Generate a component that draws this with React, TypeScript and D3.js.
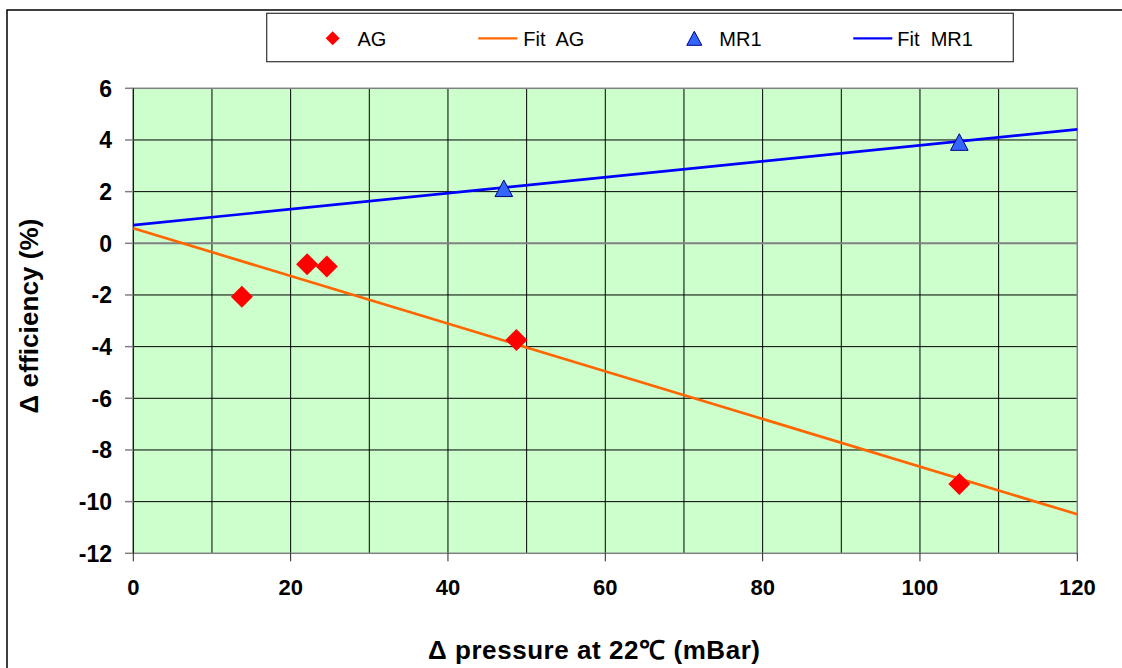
import React from "react";
import * as d3 from "d3";

const agX = [13.8, 22.1, 24.6, 48.7, 105.0];
const agY = [-2.07, -0.81, -0.9, -3.74, -9.32];
const mrX = [47.1, 105.0];
const mrY = [2.13, 3.92];
const fitAGX = [0, 120];
const fitAGY = [0.58, -10.49];
const fitMRX = [0, 120];
const fitMRY = [0.7, 4.41];
const xTicks = [0, 20, 40, 60, 80, 100, 120];
const xGrid = [10, 20, 30, 40, 50, 60, 70, 80, 90, 100, 110];
const yTicks = [6, 4, 2, 0, -2, -4, -6, -8, -10, -12];
const legendItems = ["AG", "Fit  AG", "MR1", "Fit  MR1"];

const W = 1122;
const H = 668;
const FONT = "'Liberation Sans', Arial, sans-serif";

export default function App() {
  const x = d3.scaleLinear().domain([0, 120]).range([133.3, 1077.3]);
  const y = d3.scaleLinear().domain([-12, 6]).range([553.3, 88.3]);
  const line = d3
    .line<[number, number]>()
    .x((d) => x(d[0]))
    .y((d) => y(d[1]));
  const agFit = fitAGX.map((v, i) => [v, fitAGY[i]] as [number, number]);
  const mrFit = fitMRX.map((v, i) => [v, fitMRY[i]] as [number, number]);
  const diamond = (cx: number, cy: number, r: number) =>
    `M${cx},${cy - r}L${cx + r},${cy}L${cx},${cy + r}L${cx - r},${cy}Z`;
  const tri = (cx: number, cy: number, hw: number, hh: number) =>
    `M${cx},${cy - hh}L${cx + hw},${cy + hh}L${cx - hw},${cy + hh}Z`;
  const [x0, x1] = x.range();
  const [yb, yt] = y.range();

  return (
    <svg
      width={W}
      height={H}
      style={{ position: "absolute", left: 0, top: 0, background: "#fff" }}
      fontFamily={FONT}
    >
      <rect x={0} y={0} width={W} height={H} fill="#fff" />
      {/* outer frame */}
      <rect x={7} y={10} width={1140} height={700} fill="none" stroke="#000" strokeWidth={1.5} />
      {/* plot area */}
      <rect x={x0} y={yt} width={x1 - x0} height={yb - yt} fill="#CCFFCC" />
      {xGrid.map((v) => (
        <line key={"vx" + v} x1={x(v)} x2={x(v)} y1={yt} y2={yb} stroke="#000" strokeWidth={1} />
      ))}
      {yTicks
        .filter((v) => v !== 0 && v !== 6 && v !== -12)
        .map((v) => (
          <line key={"hy" + v} x1={x0} x2={x1} y1={y(v)} y2={y(v)} stroke="#000" strokeWidth={1} />
        ))}
      <line x1={x0} x2={x1} y1={y(0)} y2={y(0)} stroke="#808080" strokeWidth={2} />
      <rect x={x0} y={yt} width={x1 - x0} height={yb - yt} fill="none" stroke="#808080" strokeWidth={1.5} />
      <line x1={x0} x2={x0} y1={yt} y2={yb} stroke="#000" strokeWidth={1} />
      {/* y ticks */}
      {yTicks.map((v) => (
        <g key={"yt" + v}>
          <line x1={125} x2={x0} y1={y(v)} y2={y(v)} stroke="#808080" strokeWidth={1.5} />
          <text x={112} y={y(v) + 8.5} textAnchor="end" fontSize={23} fontWeight="bold" fill="#000">
            {v}
          </text>
        </g>
      ))}
      {/* x ticks */}
      {xTicks.map((v) => (
        <g key={"xt" + v}>
          <line x1={x(v)} x2={x(v)} y1={yb} y2={yb + 8} stroke="#222" strokeWidth={1} />
          <text x={x(v)} y={595} textAnchor="middle" fontSize={22} fontWeight="bold" fill="#000">
            {v}
          </text>
        </g>
      ))}
      {/* fit lines */}
      <path d={line(agFit) || ""} fill="none" stroke="#FF6600" strokeWidth={2.7} />
      <path d={line(mrFit) || ""} fill="none" stroke="#0000FF" strokeWidth={2.7} />
      {/* markers */}
      {agX.map((v, i) => (
        <path key={"ag" + i} d={diamond(x(v), y(agY[i]), 11)} fill="#FF0000" />
      ))}
      {mrX.map((v, i) => (
        <path
          key={"mr" + i}
          d={tri(x(v), y(mrY[i]), 8.8, 8.3)}
          fill="#3366FF"
          stroke="#000080"
          strokeWidth={1}
        />
      ))}
      {/* axis titles */}
      <text
        x={594}
        y={659}
        textAnchor="middle"
        fontSize={26}
        fontWeight="bold"
        textLength={332}
        lengthAdjust="spacing"
      >
        Δ pressure at 22℃ (mBar)
      </text>
      <text
        transform="translate(38,316) rotate(-90)"
        textAnchor="middle"
        fontSize={26}
        fontWeight="bold"
        textLength={195}
        lengthAdjust="spacing"
      >
        Δ efficiency (%)
      </text>
      {/* legend */}
      <rect x={266.7} y={13.3} width={746.6} height={48.4} fill="#fff" stroke="#333" strokeWidth={1.2} />
      <path d={diamond(332.7, 38.3, 7)} fill="#FF0000" />
      <text x={357.5} y={46} fontSize={20} fill="#000" style={{ whiteSpace: "pre" }}>
        {legendItems[0]}
      </text>
      <line x1={478.3} x2={517.3} y1={38.3} y2={38.3} stroke="#FF6600" strokeWidth={2.2} />
      <text x={523.3} y={46} fontSize={20} fill="#000" style={{ whiteSpace: "pre" }}>
        {legendItems[1]}
      </text>
      <path d={tri(694.3, 38.3, 7.5, 7)} fill="#3366FF" stroke="#000080" strokeWidth={1} />
      <text x={719.3} y={46} fontSize={20} fill="#000" style={{ whiteSpace: "pre" }}>
        {legendItems[2]}
      </text>
      <line x1={853.3} x2={892.3} y1={38.3} y2={38.3} stroke="#0000FF" strokeWidth={2.2} />
      <text x={897.3} y={46} fontSize={20} fill="#000" style={{ whiteSpace: "pre" }}>
        {legendItems[3]}
      </text>
    </svg>
  );
}
